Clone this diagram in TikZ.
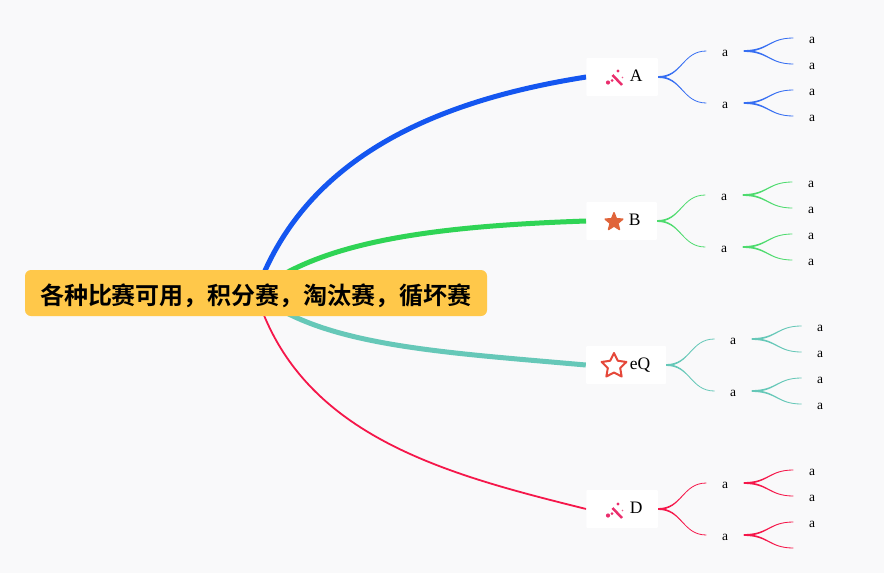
\documentclass[tikz,border=0pt]{standalone}
\usepackage{fontspec}
\setmainfont{Liberation Serif}
\newfontfamily\cjkbold[BoldFont={Noto Sans CJK SC Bold}]{Noto Sans CJK SC}
\usetikzlibrary{calc,shapes.geometric,backgrounds}
\definecolor{pagebg}{HTML}{F9F9FA}
\definecolor{rootfill}{HTML}{FFC84A}
\definecolor{cblue}{HTML}{1456F0}
\definecolor{cgreen}{HTML}{2FD455}
\definecolor{cteal}{HTML}{66C8B8}
\definecolor{cred}{HTML}{F5174A}
\definecolor{wandc}{HTML}{E8175D}
\definecolor{staro}{HTML}{E0643A}
\definecolor{starr}{HTML}{E5483A}
\tikzset{
  mainbox/.style={fill=white,rounded corners=1pt,inner sep=0pt,minimum height=38pt,text height=8pt,text depth=0pt,font=\fontsize{17.5}{20}\selectfont},
  twignode/.style={inner sep=0pt,minimum width=37pt,minimum height=10pt,text height=11pt,text depth=0pt,font=\fontsize{13.5}{15}\selectfont},
  rootbox/.style={fill=rootfill,rounded corners=6pt,inner sep=0pt,minimum width=462pt,minimum height=46pt,text height=22pt,text depth=0pt,text=black,font=\cjkbold\bfseries\fontsize{24}{28}\selectfont},
  bigline/.style={line width=5pt},
  wandstroke/.style={wandc!90!white,line width=2.5pt}
}
% tapered twig from node anchor #1 to node anchor #2 in colour #3
\newcommand{\twig}[3]{%
  \fill[#3] ($(#1)+(0,-.9)$)
    .. controls ($(#1)!.5!(#2|-#1)+(0,-.9)$) and ($(#2)!.5!(#2-|#1)+(0,-.4)$) .. ($(#2)+(0,-.4)$)
    -- ($(#2)+(0,.4)$)
    .. controls ($(#2)!.5!(#2-|#1)+(0,.4)$) and ($(#1)!.5!(#2|-#1)+(0,.9)$) .. ($(#1)+(0,.9)$) -- cycle;}
% subtree of a main node: #1 name, #2 colour, #3 text of last leaf
\newcommand{\subtree}[3]{%
  \node[twignode] (#1u) at ($(#1.east)+(67,-26)$) {a};
  \node[twignode] (#1d) at ($(#1.east)+(67,26)$) {a};
  \node[twignode] (#1ua) at ($(#1.east)+(154,-39)$) {a};
  \node[twignode] (#1ub) at ($(#1.east)+(154,-13)$) {a};
  \node[twignode] (#1da) at ($(#1.east)+(154,13)$) {a};
  \node[twignode] (#1db) at ($(#1.east)+(154,39)$) {#3};
  \twig{#1.east}{#1u.west}{#2}
  \twig{#1.east}{#1d.west}{#2}
  \twig{#1u.east}{#1ua.west}{#2}
  \twig{#1u.east}{#1ub.west}{#2}
  \twig{#1d.east}{#1da.west}{#2}
  \twig{#1d.east}{#1db.west}{#2}}
\newcommand{\wandicon}[2]{%
  \begin{scope}[shift={(#1,#2)}]
    \draw[wandstroke] (-2,-2.5) -- (7.5,7.5);
    \fill[wandc!90!white] (3.5,-6.5) circle (1.6);
    \fill[wandc!90!white] (-6.5,5) circle (2.1);
    \fill[wandc!90!white] (-2.5,3) circle (1.5);
    \fill[wandc!70!white] (8,0) circle (.8);
  \end{scope}}
\begin{document}
\begin{tikzpicture}[x=1pt,y=-1pt]
\useasboundingbox (0,0) rectangle (884,573);
\node[rootbox] (root) at (256,293) {各种比赛可用，积分赛，淘汰赛，循坏赛};
\node[mainbox,minimum width=71.5pt] (A) at (622.2,77) {\hspace{28pt}A};
\node[mainbox,minimum width=70.5pt] (B) at (621.7,221) {\hspace{26pt}B};
\node[mainbox,minimum width=80pt] (E) at (626,365) {\hspace{28pt}eQ};
\node[mainbox,minimum width=71.5pt] (D) at (622.2,509) {\hspace{28pt}D};
\begin{pgfonlayer}{background}
  \fill[pagebg] (0,0) rectangle (884,573);
  \draw[cblue,bigline] (root.center) .. controls (305,155) and (440,100) .. (A.west);
  \draw[cgreen,bigline] (root.center) .. controls (320,240) and (440,226) .. (B.west);
  \draw[cteal,bigline] (root.center) .. controls (320,346) and (440,352) .. (E.west);
  \draw[cred,line width=1.8pt] (root.center) .. controls (300,436) and (445,474) .. (D.west);
\end{pgfonlayer}
\subtree{A}{cblue!85!white}{a}
\subtree{B}{cgreen!85!white}{a}
\subtree{E}{cteal}{a}
\subtree{D}{cred}{}
\wandicon{614.5}{77.5}
\wandicon{614.5}{510.5}
\node[star,star points=5,star point ratio=2.3,fill=staro,draw=staro,line join=round,line width=1.5pt,inner sep=0pt,minimum size=18.5pt] (sb) at (614,222) {};
\node[star,star points=5,star point ratio=2.0,draw=starr,line join=round,line width=2pt,fill=white,inner sep=0pt,minimum size=26pt] (se) at (614,366) {};
\end{tikzpicture}
\end{document}
